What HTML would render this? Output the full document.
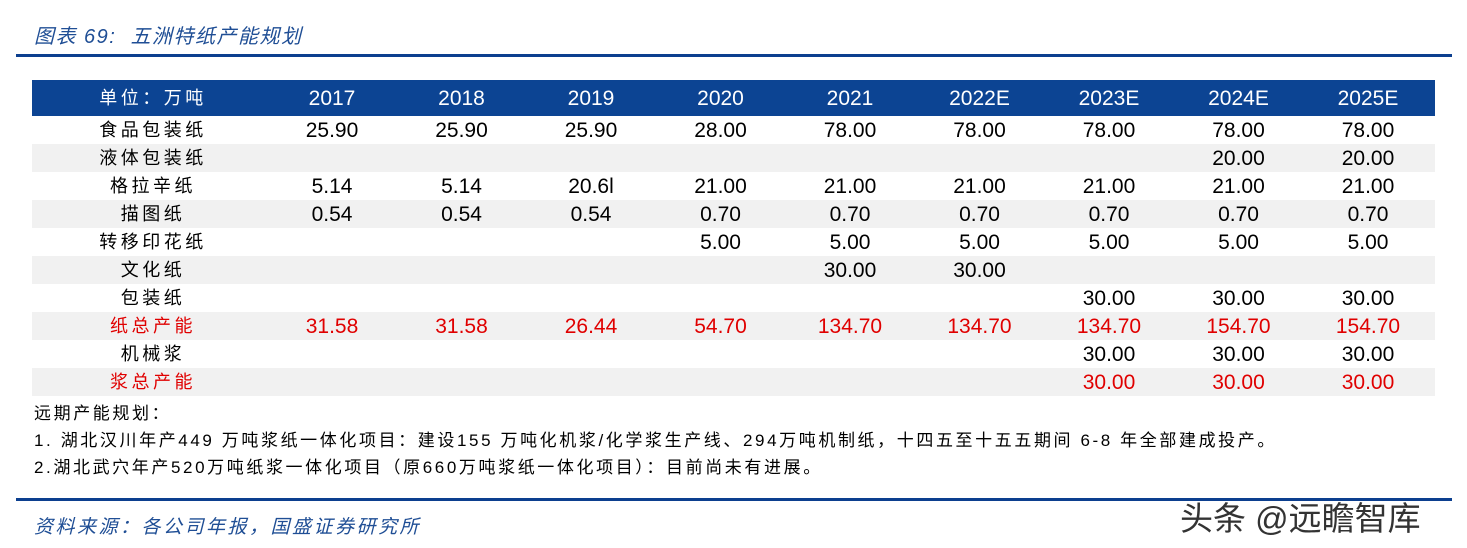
<!DOCTYPE html>
<html><head><meta charset="utf-8"><style>
body{margin:0;width:1467px;height:548px;background:#fff;position:relative;overflow:hidden;font-family:"Liberation Sans","Noto Sans CJK SC",sans-serif}
.a{position:absolute}
.t{font-style:italic;color:#1f4e95;font-size:20px;letter-spacing:1.5px}
.row{position:absolute;left:32px;width:1403px;height:28px}
.c{position:absolute;width:130px;text-align:center;font-size:21px;line-height:28px;color:#000}
.l{position:absolute;left:31px;width:180px;text-align:center;font-size:18px;letter-spacing:3.5px;line-height:28px}
.r{color:#e00000}
.n{font-size:17px;letter-spacing:2.6px;color:#000;left:34px}
</style></head><body>
<div class="a t" style="left:34px;top:20px">图表 69:&nbsp; 五洲特纸产能规划</div>
<div class="a" style="left:16px;top:54px;width:1436px;height:3px;background:#0c3f8f"></div>
<div class="row" style="top:80px;height:36px;background:#0c4493;color:#fff">
<div class="l" style="line-height:36px;color:#fff">单位：万吨</div>
</div>
<div id="tb"></div>
<div class="a n" style="top:399px">远期产能规划：</div>
<div class="a n" style="top:426px">1. 湖北汉川年产449 万吨浆纸一体化项目：建设155 万吨化机浆/化学浆生产线、294万吨机制纸，十四五至十五五期间 6-8 年全部建成投产。</div>
<div class="a n" style="top:453px">2.湖北武穴年产520万吨纸浆一体化项目（原660万吨浆纸一体化项目）：目前尚未有进展。</div>
<div class="a" style="left:16px;top:498px;width:1436px;height:3px;background:#0c3f8f"></div>
<div class="a t" style="left:34px;top:512px;font-size:19px;letter-spacing:2.5px">资料来源：各公司年报，国盛证券研究所</div>
<div class="a" style="left:1180px;top:492px;font-size:33px;color:#333">头条 @远瞻智库</div>
<script>
var hdr=["2017","2018","2019","2020","2021","2022E","2023E","2024E","2025E"];
var rows=[["食品包装纸","25.90","25.90","25.90","28.00","78.00","78.00","78.00","78.00","78.00"],
["液体包装纸","","","","","","","","20.00","20.00"],
["格拉辛纸","5.14","5.14","20.6l","21.00","21.00","21.00","21.00","21.00","21.00"],
["描图纸","0.54","0.54","0.54","0.70","0.70","0.70","0.70","0.70","0.70"],
["转移印花纸","","","","5.00","5.00","5.00","5.00","5.00","5.00"],
["文化纸","","","","","30.00","30.00","","",""],
["包装纸","","","","","","","30.00","30.00","30.00"],
["纸总产能","31.58","31.58","26.44","54.70","134.70","134.70","134.70","154.70","154.70"],
["机械浆","","","","","","","30.00","30.00","30.00"],
["浆总产能","","","","","","","30.00","30.00","30.00"]];
var h='<div class="row" style="top:80px;height:36px">';
hdr.forEach(function(x,i){h+='<div class="c" style="left:'+(235+129.5*i)+'px;line-height:38px;color:#fff">'+x+'</div>'});
h+='</div>';
rows.forEach(function(r,j){var red=(j==7||j==9)?' r':'';
h+='<div class="row" style="top:'+(116+28*j)+'px;background:'+(j%2?'#f1f1f1':'#fff')+'"><div class="l'+red+'">'+r[0]+'</div>';
for(var i=1;i<10;i++)h+='<div class="c'+red+'" style="left:'+(235+129.5*(i-1))+'px;line-height:30px">'+r[i]+'</div>';
h+='</div>'});
document.getElementById('tb').innerHTML=h;
</script>
</body></html>
